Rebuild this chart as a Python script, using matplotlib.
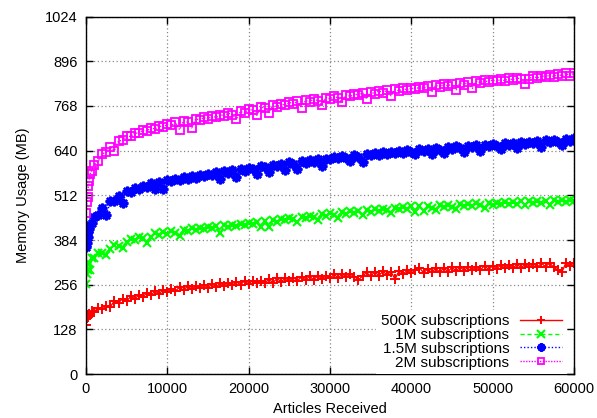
import matplotlib
matplotlib.use("Agg")
import matplotlib.pyplot as plt

plt.rcParams['font.family'] = ['Liberation Sans', 'DejaVu Sans']

x_thousands = [0, 0.1, 0.2, 0.3, 0.4, 0.5, 0.7,
    1.0, 1.5, 2.0, 2.5, 3.0, 3.5, 4.0, 4.5, 5.0, 5.5, 6.0, 6.5, 7.0, 7.5, 8.0, 8.5, 9.0, 9.5, 10.0,
    10.5, 11, 11.5, 12, 12.5, 13, 13.5, 14, 14.5, 15, 15.5, 16, 16.5, 17, 17.5, 18, 18.5, 19, 19.5, 20,
    20.5, 21, 21.5, 22, 22.5, 23, 23.5, 24, 24.5, 25, 25.5, 26, 26.5, 27, 27.5, 28, 28.5, 29, 29.5, 30,
    30.5, 31, 31.5, 32, 32.5, 33, 33.5, 34, 34.5, 35, 35.5, 36, 36.5, 37, 37.5, 38, 38.5, 39, 39.5, 40,
    40.5, 41, 41.5, 42, 42.5, 43, 43.5, 44, 44.5, 45, 45.5, 46, 46.5, 47, 47.5, 48, 48.5, 49, 49.5, 50,
    50.5, 51, 51.5, 52, 52.5, 53, 53.5, 54, 54.5, 55, 55.5, 56, 56.5, 57, 57.5, 58, 58.5, 59, 59.5, 60]
articles = [v * 1000 for v in x_thousands]

mem_500k = [142, 160, 170, 163, 172, 168, 182,
    178, 190, 186, 196, 193, 210, 204, 216, 208, 223, 216, 226, 221, 233, 226, 238, 230, 242, 236,
    244, 238, 249, 240, 252, 244, 251, 246, 255, 248, 258, 250, 260, 253, 262, 255, 264, 256, 267, 258,
    268, 260, 267, 262, 271, 262, 274, 264, 275, 267, 276, 268, 278, 270, 280, 270, 282, 273, 281, 274,
    286, 275, 287, 278, 286, 279, 270, 281, 291, 280, 293, 282, 294, 285, 293, 272, 296, 287, 297, 289,
    299, 305, 290, 301, 291, 303, 292, 304, 293, 306, 295, 307, 296, 308, 299, 306, 298, 311, 299, 311,
    301, 313, 303, 312, 304, 314, 305, 314, 306, 316, 307, 317, 308, 318, 306, 298, 292, 318, 310, 319]

mem_1m = [258, 288, 297, 315, 318, 298, 333,
    332, 347, 348, 340, 359, 370, 368, 360, 377, 387, 384, 393, 390, 376, 394, 403, 398, 406, 402,
    409, 405, 395, 414, 409, 417, 412, 419, 415, 422, 417, 424, 405, 426, 421, 428, 424, 431, 426, 434,
    429, 437, 420, 439, 422, 442, 437, 445, 440, 448, 443, 435, 451, 447, 454, 449, 440, 458, 453, 461,
    456, 448, 464, 459, 466, 461, 468, 455, 470, 465, 472, 467, 474, 469, 462, 477, 472, 478, 473, 480,
    465, 481, 467, 482, 477, 470, 484, 478, 485, 479, 474, 486, 481, 488, 482, 489, 484, 477, 490, 485,
    491, 486, 493, 487, 494, 488, 495, 484, 495, 490, 496, 491, 497, 485, 498, 492, 499, 493, 500, 495]

mem_1_5m = [365, 375, 392, 408, 415, 428, 433,
    451, 457, 475, 455, 495, 497, 511, 490, 523, 522, 532, 530, 540, 537, 546, 530, 551, 530, 556,
    552, 560, 556, 564, 559, 567, 563, 571, 566, 574, 570, 578, 560, 581, 577, 584, 565, 588, 583, 591,
    587, 572, 596, 592, 580, 600, 596, 603, 585, 606, 601, 588, 610, 605, 613, 608, 615, 595, 617, 616,
    623, 618, 625, 620, 609, 628, 623, 607, 631, 626, 633, 628, 635, 630, 637, 632, 639, 634, 641, 637,
    629, 644, 639, 646, 630, 647, 642, 632, 650, 645, 652, 647, 636, 654, 649, 656, 638, 657, 652, 659,
    654, 645, 661, 656, 663, 648, 664, 659, 666, 661, 668, 651, 669, 664, 671, 666, 655, 673, 668, 675]

mem_2m = [462, 493, 508, 538, 552, 573, 582,
    600, 609, 631, 635, 651, 640, 668, 669, 681, 681, 691, 689, 699, 696, 705, 702, 711, 707, 716,
    712, 721, 700, 725, 721, 705, 731, 727, 735, 731, 739, 735, 743, 739, 747, 743, 730, 752, 748, 759,
    755, 741, 765, 761, 749, 770, 766, 774, 770, 778, 774, 781, 763, 784, 780, 788, 783, 770, 792, 788,
    795, 791, 778, 800, 795, 803, 798, 806, 789, 808, 803, 811, 806, 813, 797, 815, 811, 818, 813, 820,
    815, 823, 818, 825, 808, 827, 823, 830, 825, 832, 814, 834, 829, 837, 818, 839, 834, 841, 836, 843,
    838, 845, 840, 847, 842, 849, 844, 832, 846, 853, 848, 855, 850, 857, 852, 859, 854, 861, 855, 862]

labels = ["500K subscriptions", "1M subscriptions", "1.5M subscriptions", "2M subscriptions"]
yticks = [0, 128, 256, 384, 512, 640, 768, 896, 1024]
xticks = [0, 10000, 20000, 30000, 40000, 50000, 60000]

fig = plt.figure(figsize=(5.97, 4.18), dpi=100)
ax = fig.add_axes([0.144, 0.105, 0.8175, 0.8555])

ax.plot(articles, mem_500k, color='#ff0000', ls='-', lw=1.0, marker='+', ms=7.5, mew=1.4, label=labels[0])
ax.plot(articles, mem_1m, color='#00ff00', ls=(0, (3, 2)), lw=1.0, marker='x', ms=6, mew=1.5, label=labels[1])
ax.plot(articles, mem_1_5m, color='#0000ff', ls=(0, (1, 1.5)), lw=1.0, marker=(8, 2, 0), ms=7, mew=1.8, label=labels[2])
ax.plot(articles, mem_2m, color='#ff00ff', ls=(0, (1, 1)), lw=1.0, marker='s', ms=5.5, mew=1.3,
        mfc='none', label=labels[3])

ax.set_xlim(0, 60000)
ax.set_ylim(0, 1024)
ax.set_xticks(xticks)
ax.set_yticks(yticks)
ax.tick_params(direction='in', length=5, width=1, top=True, right=True, labelsize=10.5, pad=6)
ax.grid(True, color='#888888', ls=(0, (1, 2)), lw=0.9)
for s in ax.spines.values():
    s.set_linewidth(1.0)

ax.set_xlabel("Articles Received", fontsize=10.5, labelpad=4)
ax.set_ylabel("Memory Usage (MB)", fontsize=10.5, labelpad=11)

leg = ax.legend(loc='lower right', bbox_to_anchor=(0.985, 0.0), markerfirst=False, alignment='right',
                frameon=True, facecolor='white', edgecolor='none', framealpha=1, fancybox=False,
                fontsize=11, handlelength=2.75, handletextpad=0.7, labelspacing=-0.02,
                borderaxespad=0.0, borderpad=0.3, markerscale=0.85)
leg.set_zorder(5)

fig.savefig("out.png", dpi=100)
